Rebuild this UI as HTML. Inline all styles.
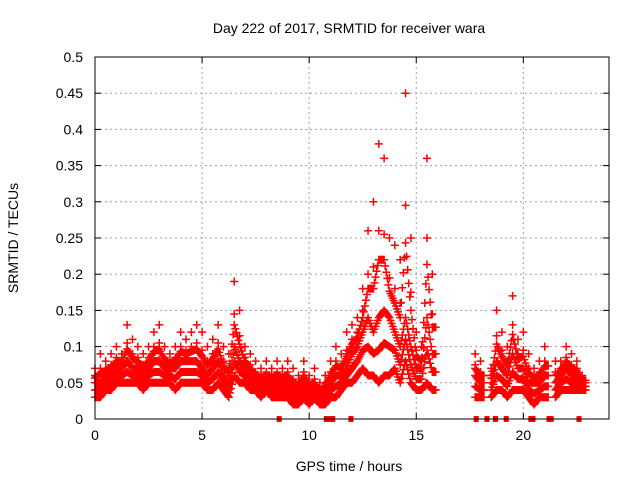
<!DOCTYPE html>
<html><head><meta charset="utf-8"><style>
body{margin:0;background:#fff;}
svg{display:block;font-family:"Liberation Sans",sans-serif;}
</style></head><body>
<svg id="chart" width="640" height="480" viewBox="0 0 640 480">
<text x="349" y="33" font-size="14" text-anchor="middle">Day 222 of 2017, SRMTID for receiver wara</text>
<text x="349" y="471" font-size="14" text-anchor="middle">GPS time / hours</text>
<text x="18" y="238" font-size="14" text-anchor="middle" transform="rotate(-90 18 238)">SRMTID / TECUs</text>
<g id="grid"></g>
<g id="ticks"></g>
<g id="marks"></g>
<rect x="95" y="57" width="514" height="362" fill="none" stroke="#000" stroke-width="1"/>
</svg>
<script>
const xTicks=[0,5,10,15,20];
const yTicks=[0,0.05,0.1,0.15,0.2,0.25,0.3,0.35,0.4,0.45,0.5];
const yTickLabels=["0","0.05","0.1","0.15","0.2","0.25","0.3","0.35","0.4","0.45","0.5"];
const times=[0,0.25,0.5,0.75,1,1.25,1.5,1.75,2,2.25,2.5,2.75,3,3.25,3.5,3.75,4,4.25,4.5,4.75,5,5.25,5.5,5.75,6,6.25,6.5,6.75,7,7.25,7.5,7.75,8,8.25,8.5,8.75,9,9.25,9.5,9.75,10,10.25,10.5,
10.75,11,11.25,11.5,11.75,12,12.25,12.5,12.75,13,13.25,13.5,13.75,14,14.25,14.5,14.75,15,15.25,15.5,15.75,
17.75,18,18.5,18.75,19,19.25,19.5,19.75,20,20.25,20.5,20.75,21,21.5,21.75,22,22.25,22.5,22.75];
const seriesHigh=[0.07,0.09,0.08,0.09,0.10,0.09,0.13,0.11,0.10,0.09,0.10,0.12,0.13,0.10,0.09,0.10,0.12,0.11,0.12,0.13,0.12,0.10,0.11,0.13,0.10,0.09,0.19,0.15,0.10,0.09,0.08,0.07,0.08,0.07,0.08,0.07,0.08,0.07,0.06,0.08,0.06,0.07,0.05,
0.06,0.08,0.10,0.09,0.12,0.13,0.14,0.18,0.26,0.30,0.38,0.36,0.25,0.24,0.22,0.45,0.25,0.12,0.10,0.36,0.20,0.09,
0.08,0.07,0.15,0.12,0.10,0.17,0.11,0.12,0.09,0.07,0.08,0.10,0.08,0.08,0.10,0.09,0.08,0.06,0.05];
const seriesMid=[0.05,0.05,0.06,0.06,0.07,0.07,0.08,0.07,0.07,0.06,0.07,0.08,0.08,0.07,0.07,0.07,0.08,0.08,0.08,0.08,0.07,0.06,0.07,0.08,0.06,0.05,0.10,0.08,0.07,0.06,0.05,0.05,0.05,0.05,0.05,0.05,0.05,0.04,0.04,0.05,0.04,0.04,0.03,
0.04,0.05,0.06,0.06,0.07,0.09,0.10,0.12,0.14,0.12,0.14,0.15,0.14,0.12,0.10,0.14,0.10,0.07,0.07,0.14,0.09,0.06,
0.05,0.05,0.08,0.07,0.06,0.09,0.07,0.07,0.05,0.05,0.05,0.06,0.05,0.06,0.07,0.06,0.06,0.05,0.04];
const seriesLow=[0.03,0.03,0.04,0.04,0.05,0.05,0.05,0.05,0.05,0.04,0.05,0.05,0.05,0.05,0.05,0.04,0.05,0.05,0.05,0.05,0.05,0.04,0.04,0.05,0.04,0.03,0.06,0.05,0.05,0.04,0.04,0.03,0.04,0.03,0.03,0.03,0.03,0.02,0.02,0.03,0.02,0.03,0.02,
0.02,0.03,0.03,0.04,0.05,0.05,0.06,0.07,0.06,0.06,0.05,0.06,0.06,0.07,0.05,0.08,0.05,0.04,0.04,0.05,0.04,0.03,
0.03,0.03,0.04,0.04,0.03,0.04,0.04,0.04,0.03,0.02,0.03,0.03,0.03,0.04,0.04,0.04,0.04,0.04,0.03];
const zeroTimes=[8.6,10.8,10.9,11.0,11.1,11.95,17.8,18.3,18.7,19.2,20.35,20.45,21.2,21.3,22.6];

const NS="http://www.w3.org/2000/svg";
const X0=95,X1=609,Y0=419,Y1=57;
function xs(v){return X0+(v/24)*(X1-X0);}
function ys(v){return Y0-(v/0.5)*(Y0-Y1);}
const grid=document.getElementById('grid'),ticks=document.getElementById('ticks'),marks=document.getElementById('marks');
function mk(tag,attrs,parent){const e=document.createElementNS(NS,tag);for(const k in attrs)e.setAttribute(k,attrs[k]);parent.appendChild(e);return e;}
xTicks.forEach(t=>{
  const x=xs(t);
  if(t>0){const g=mk('line',{x1:x,x2:x,y1:Y0,y2:Y1,stroke:'#a0a0a0','stroke-dasharray':'2,3','stroke-width':1},grid);
  
  }
  mk('line',{x1:x,x2:x,y1:Y0,y2:Y0-6,stroke:'#000'},ticks);
  mk('line',{x1:x,x2:x,y1:Y1,y2:Y1+6,stroke:'#000'},ticks);
  const l=mk('text',{x:x,y:Y0+21,'font-size':14,'text-anchor':'middle'},ticks);
  l.textContent=String(t);
  
  
});
yTicks.forEach((t,i)=>{
  const y=ys(t);
  if(t>0&&t<0.5){const g=mk('line',{x1:X0,x2:X1,y1:y,y2:y,stroke:'#a0a0a0','stroke-dasharray':'2,3','stroke-width':1},grid);
  
  }
  mk('line',{x1:X0,x2:X0+6,y1:y,y2:y,stroke:'#000'},ticks);
  mk('line',{x1:X1,x2:X1-6,y1:y,y2:y,stroke:'#000'},ticks);
  const l=mk('text',{x:X0-12,y:y+5,'font-size':14,'text-anchor':'end'},ticks);
  l.textContent=yTickLabels[i];
  
  
});
function plus(t,v,col){
  const x=xs(t),y=ys(v);
  const p=mk('path',{d:`M${x-4},${y}H${x+4}M${x},${y-4}V${y+4}`,stroke:col,'stroke-width':1.5,fill:'none'},marks);
  
  
}
const n=Math.min(times.length,seriesHigh.length,seriesMid.length,seriesLow.length);
const fr=[0,0.2,0.4,0.6,0.8];
for(let i=0;i<n;i++){
  const t=times[i],h=seriesHigh[i],m=seriesMid[i],lo=seriesLow[i];
  const hasNext=i+1<n && times[i+1]-t<0.3;
  const t2=hasNext?times[i+1]:t+0.2;
  const h2=hasNext?seriesHigh[i+1]:h, m2=hasNext?seriesMid[i+1]:m, lo2=hasNext?seriesLow[i+1]:lo;
  fr.forEach((f,k)=>{
    const tt=t+(t2-t)*f;
    const L=lo+(lo2-lo)*f, M=m+(m2-m)*f, H=h+(h2-h)*f;
    plus(tt,L,'#ff0000');
    plus(tt,(L+M)/2,'#ff0000');
    plus(tt,M,'#ff0000');
    plus(tt,(M*2+H)/3,'#ff0000');
    if(k===0){plus(tt,H,'#ff0000');plus(tt,(M+H)/2,'#ff0000');}
  });
}
zeroTimes.forEach(t=>{
  const r=mk('rect',{x:xs(t)-2.5,y:Y0-3,width:5,height:6,fill:'#ff0000'},marks);
  
  
});
</script>
</body></html>
